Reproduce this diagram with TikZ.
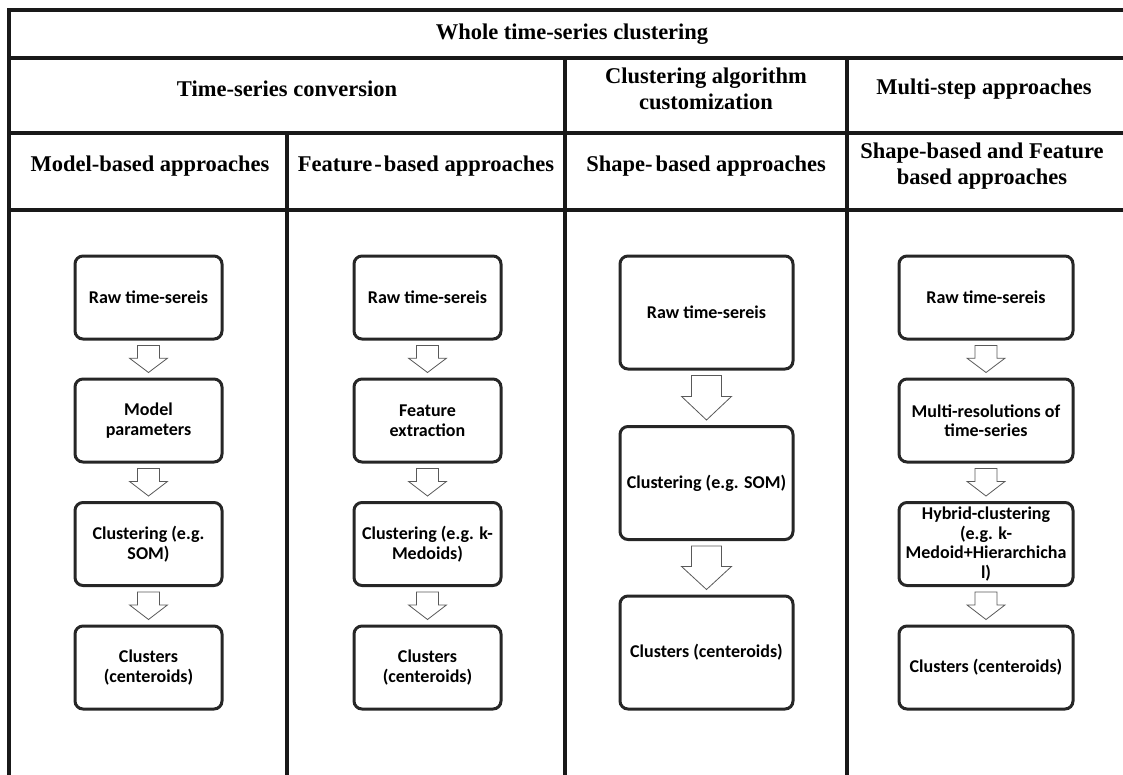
\documentclass[tikz,border=0pt]{standalone}
\usepackage{fontspec}
\setmainfont{Liberation Serif}
\newfontfamily\boxfont{Carlito}
\usetikzlibrary{calc}

\newcommand{\hollowarrow}[4]{%
\path ($(#1.south)+(0,5)$) coordinate (arrtop) ($(#2.north)+(0,-5)$) coordinate (arrtip);
\path ($(arrtop)!0.47!(arrtip)$) coordinate (arrneck);
\draw[hollow] ($(arrtop)+(-#3,0)$) -- ($(arrtop)+(#3,0)$) -- ($(arrneck)+(#3,0)$) -- ($(arrneck)+(#4,0)$)
  -- (arrtip) -- ($(arrneck)+(-#4,0)$) -- ($(arrneck)+(-#3,0)$) -- cycle;}

\begin{document}
\begin{tikzpicture}[x=1pt,y=-1pt,
  tableline/.style={line width=4pt,black!90},
  head/.style={font=\bfseries\fontsize{22.5}{26}\selectfont,align=center,inner sep=0pt},
  stage/.style={draw=black!85,line width=3pt,rounded corners=8pt,align=center,inner sep=1pt,
    font=\boxfont\bfseries\fontsize{18}{19.5}\selectfont},
  smallstage/.style={stage,minimum width=147pt,minimum height=83pt},
  widestage/.style={stage,minimum width=174pt,minimum height=83pt},
  tallstage/.style={stage,minimum width=173pt,minimum height=113pt},
  hollow/.style={draw=black!65,line width=0.8pt,fill=white}]
\useasboundingbox (0,0) rectangle (1123,774);

\draw[tableline] (1127,10) -- (9,10) -- (9,776);
\draw[tableline] (9,58) -- (1127,58);
\draw[tableline] (9,133) -- (1127,133);
\draw[tableline] (9,210) -- (1127,210);
\draw[tableline] (287,133) -- (287,776);
\draw[tableline] (565,58) -- (565,776);
\draw[tableline] (847,58) -- (847,776);

\node[head] (whole) at (572,34) {Whole time-series clustering};
\node[head] (conv) at (287,89) {Time-series conversion};
\node[head] (custom) at (706,89) {Clustering algorithm\\customization};
\node[head] (multi) at (984,89) {Multi-step approaches};
\node[head] (model) at (150,166) {Model-based approaches};
\node[head] (feature) at (426,166) {Feature\kern2pt-\kern2pt based approaches};
\node[head] (shape) at (706,166) {Shape-\kern3pt based approaches};
\node[head] (mixed) at (982,166) {Shape-based and Feature\\based approaches};

\node[smallstage] (m1) at (148.5,297.5) {Raw time-sereis};
\node[smallstage] (m2) at (148.5,420.5) {Model\\parameters};
\node[smallstage] (m3) at (148.5,544) {Clustering (e.g.\\SOM)};
\node[smallstage] (m4) at (148.5,667.5) {Clusters\\(centeroids)};

\node[smallstage] (f1) at (427.5,297.5) {Raw time-sereis};
\node[smallstage] (f2) at (427.5,420.5) {Feature\\extraction};
\node[smallstage] (f3) at (427.5,544) {Clustering (e.g. k-\\Medoids)};
\node[smallstage] (f4) at (427.5,667.5) {Clusters\\(centeroids)};

\node[tallstage] (s1) at (706.5,312.5) {Raw time-sereis};
\node[tallstage] (s2) at (706.5,483) {Clustering (e.g. SOM)};
\node[tallstage] (s3) at (706.5,652.5) {Clusters (centeroids)};

\node[widestage] (h1) at (986,297.5) {Raw time-sereis};
\node[widestage] (h2) at (986,420.5) {Multi-resolutions of\\time-series};
\node[widestage] (h3) at (986,544) {Hybrid-clustering\\(e.g. k-\\Medoid+Hierarchicha\\l)};
\node[widestage] (h4) at (986,667.5) {Clusters (centeroids)};

\hollowarrow{m1}{m2}{11}{19}
\hollowarrow{m2}{m3}{11}{19}
\hollowarrow{m3}{m4}{11}{19}
\hollowarrow{f1}{f2}{11}{19}
\hollowarrow{f2}{f3}{11}{19}
\hollowarrow{f3}{f4}{11}{19}
\hollowarrow{s1}{s2}{15}{25}
\hollowarrow{s2}{s3}{15}{25}
\hollowarrow{h1}{h2}{11}{19}
\hollowarrow{h2}{h3}{11}{19}
\hollowarrow{h3}{h4}{11}{19}
\end{tikzpicture}
\end{document}
